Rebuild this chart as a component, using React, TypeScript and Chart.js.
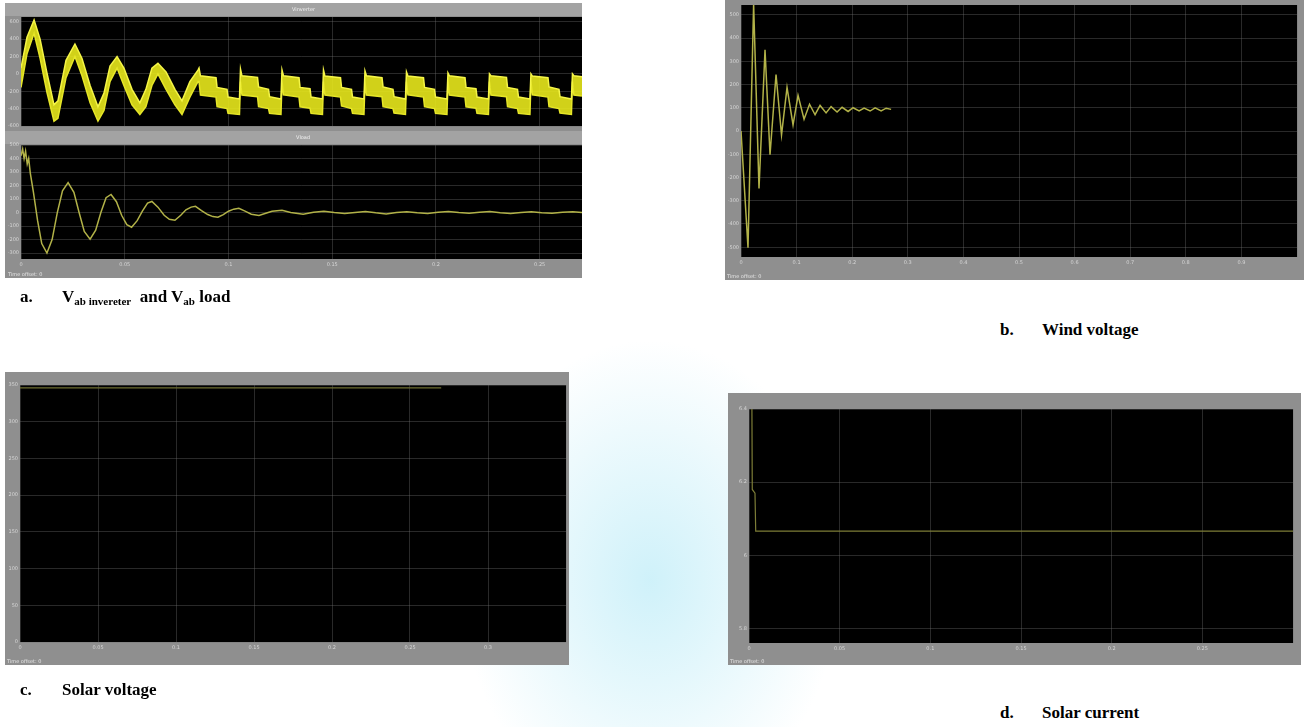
import React, { useEffect, useRef } from "react";
import { Chart, registerables } from "chart.js";

Chart.register(...registerables);

// ---------- a. inverter line voltage (switching band: upper / lower envelope) ----------
const inverterTime = [
  0.0, 0.0029, 0.0063, 0.0092, 0.0125, 0.0159, 0.0178, 0.0217, 0.026, 0.0294, 0.0333, 0.0371, 0.04,
  0.0429, 0.0463, 0.0496, 0.0535, 0.0573, 0.0602, 0.0631, 0.066, 0.0699, 0.0742, 0.0776, 0.0814, 0.0853,
  0.0858, 0.0865, 0.094, 0.0945, 0.0993, 0.0998, 0.1053,
  0.1058, 0.1065, 0.114, 0.1145, 0.1193, 0.1198, 0.1253,
  0.1258, 0.1265, 0.134, 0.1345, 0.1393, 0.1398, 0.1453,
  0.1458, 0.1465, 0.154, 0.1545, 0.1593, 0.1598, 0.1653,
  0.1658, 0.1665, 0.174, 0.1745, 0.1793, 0.1798, 0.1853,
  0.1858, 0.1865, 0.194, 0.1945, 0.1993, 0.1998, 0.2053,
  0.2058, 0.2065, 0.214, 0.2145, 0.2193, 0.2198, 0.2253,
  0.2258, 0.2265, 0.234, 0.2345, 0.2393, 0.2398, 0.2453,
  0.2458, 0.2465, 0.254, 0.2545, 0.2593, 0.2598, 0.2653,
  0.2658, 0.2665, 0.2704,
];
const inverterUpper = [
  67, 422, 622, 400, 11, -356, -311, 156, 344, 178, -133, -378, -222,
  89, 200, 67, -178, -333, -178, 67, 122, 22, -178, -311, -89, 44,
  67, -22, -44, -156, -178, -267, -289,
  56, -22, -40, -150, -178, -262, -289,
  44, -22, -44, -156, -170, -267, -289,
  44, -25, -44, -156, -178, -267, -289,
  33, -22, -44, -150, -178, -262, -289,
  22, -25, -44, -156, -178, -267, -289,
  11, -22, -44, -156, -170, -267, -289,
  0, -22, -40, -156, -178, -267, -289,
  0, -25, -44, -150, -178, -262, -289,
  0, -22, -33,
];
const inverterLower = [
  -156, 233, 467, 178, -211, -544, -511, -44, 200, -22, -333, -544, -422,
  -89, 67, -133, -356, -467, -378, -133, 0, -178, -356, -467, -267, -89,
  -89, -244, -267, -378, -400, -455, -467,
  -89, -244, -262, -378, -400, -455, -467,
  -89, -240, -267, -378, -395, -455, -467,
  -89, -244, -267, -370, -400, -455, -467,
  -89, -244, -262, -378, -400, -450, -467,
  -89, -240, -267, -378, -400, -455, -467,
  -89, -244, -267, -378, -395, -455, -467,
  -89, -244, -262, -378, -400, -455, -467,
  -89, -240, -267, -378, -400, -450, -467,
  -89, -244, -256,
];

// ---------- a. load line voltage ----------
const loadTime = [
  0.0, 0.0008, 0.0015, 0.0022, 0.003, 0.0037, 0.0045, 0.006, 0.008, 0.01, 0.0125, 0.015, 0.0175, 0.02,
  0.0227, 0.0255, 0.028, 0.0305, 0.0333, 0.036, 0.0385, 0.041, 0.0434, 0.046, 0.0485, 0.051, 0.0533,
  0.056, 0.0585, 0.061, 0.0631, 0.066, 0.069, 0.0715, 0.0742, 0.077, 0.0795, 0.082, 0.0841, 0.087,
  0.09, 0.0925, 0.0949, 0.0975, 0.1, 0.1025, 0.105, 0.108, 0.111, 0.1147, 0.118, 0.121, 0.1258, 0.13,
  0.136, 0.141, 0.146, 0.151, 0.156, 0.161, 0.166, 0.171, 0.176, 0.181, 0.186, 0.191, 0.196, 0.201,
  0.206, 0.211, 0.216, 0.221, 0.226, 0.231, 0.236, 0.241, 0.246, 0.251, 0.256, 0.261, 0.266, 0.2704,
];
const loadVoltage = [
  420, 470, 400, 455, 360, 400, 290, 150, -60, -230, -300, -200, 0, 160,
  222, 150, 0, -140, -197, -130, 0, 110, 134, 80, -20, -90, -109,
  -60, 10, 70, 82, 40, -20, -50, -57, -20, 20, 40, 46, 15,
  -15, -30, -35, -15, 10, 25, 31, 10, -12, -21, -5, 10, 16, 0,
  -12, 2, 10, 0, -8, 0, 8, -2, -10, 0, 6, -2, -8, 2,
  8, 0, -6, 2, 8, -2, -8, 0, 6, -2, -6, 2, 6, 0,
];

// ---------- b. wind voltage ----------
const windTime = [
  0.0, 0.0126, 0.0227, 0.0324, 0.0432, 0.0522, 0.063, 0.0729, 0.0828, 0.0936, 0.1026, 0.1134,
  0.1233, 0.1332, 0.1422, 0.153, 0.162, 0.1728, 0.1818, 0.1926, 0.2016, 0.2124, 0.2214, 0.2322,
  0.2412, 0.252, 0.261, 0.27,
];
const windVoltage = [
  0, -502, 545, -247, 349, -102, 243, -17, 187, 26, 153, 51,
  115, 70, 110, 78, 105, 82, 102, 84, 100, 86, 99, 86,
  100, 86, 98, 93,
];

// ---------- c. solar voltage ----------
const solarVoltageTime = [0.0, 0.27];
const solarVoltage = [346, 346];

// ---------- d. solar current ----------
const solarCurrentTime = [0.0, 0.0016, 0.0018, 0.0033, 0.0037, 0.3];
const solarCurrent = [6.41, 6.41, 6.18, 6.17, 6.066, 6.066];

// ---------- scope drawing ----------
const plotBackground = {
  id: "plotBackground",
  beforeDraw(chart: any) {
    const { ctx, chartArea: a } = chart;
    ctx.save();
    ctx.fillStyle = "#000";
    ctx.fillRect(a.left, a.top, a.right - a.left, a.bottom - a.top);
    ctx.restore();
  },
};

type Trace = {
  xs: number[];
  ys: number[];
  color: string;
  width: number;
  fill?: string | false;
  fillColor?: string;
};

type ScopeProps = {
  left: number;
  top: number;
  width: number;
  height: number;
  plotLeft: number;
  plotTop: number;
  plotRight: number;
  plotBottom: number;
  xMin: number;
  xMax: number;
  xStep: number;
  yMin: number;
  yMax: number;
  yStep: number;
  showXLabels: boolean;
  traces: Trace[];
};

const fmt = (v: number) => {
  if (Math.abs(v) < 1e-9) return "0";
  return String(parseFloat(v.toFixed(4)));
};

const gridColor = "rgba(115,115,115,0.36)";
const labelColor = "#d6d6d6";
const labelFont = { family: "DejaVu Sans", size: 5 };

function Scope(p: ScopeProps) {
  const ref = useRef<HTMLCanvasElement>(null);
  useEffect(() => {
    const canvas = ref.current;
    if (!canvas) return;
    const chart = new Chart(canvas, {
      type: "line",
      data: {
        datasets: p.traces.map((t) => ({
          data: t.xs.map((x, i) => ({ x, y: t.ys[i] })),
          borderColor: t.color,
          borderWidth: t.width,
          pointRadius: 0,
          tension: 0,
          fill: t.fill ?? false,
          backgroundColor: t.fillColor ?? "transparent",
        })),
      },
      options: {
        responsive: false,
        animation: false,
        devicePixelRatio: 1,
        events: [],
        layout: {
          autoPadding: false,
          padding: { left: 0, top: p.plotTop, right: p.width - p.plotRight, bottom: 0 },
        },
        plugins: { legend: { display: false }, tooltip: { enabled: false } },
        scales: {
          x: {
            type: "linear",
            min: p.xMin,
            max: p.xMax,
            afterFit: (s: any) => {
              s.height = p.height - p.plotBottom;
            },
            border: { display: false },
            grid: { color: gridColor, lineWidth: 1, drawTicks: false },
            ticks: {
              display: p.showXLabels,
              stepSize: p.xStep,
              includeBounds: false,
              autoSkip: false,
              maxRotation: 0,
              padding: 3,
              color: labelColor,
              font: labelFont,
              callback: (v: any) => (Math.abs(Number(v) - p.xMax) < 1e-9 ? "" : fmt(Number(v))),
            },
          },
          y: {
            type: "linear",
            min: p.yMin,
            max: p.yMax,
            afterFit: (s: any) => {
              s.width = p.plotLeft;
            },
            border: { display: false },
            grid: { color: gridColor, lineWidth: 1, drawTicks: false },
            ticks: {
              stepSize: p.yStep,
              includeBounds: false,
              autoSkip: false,
              padding: 2,
              color: labelColor,
              font: labelFont,
              callback: (v: any) => fmt(Number(v)),
            },
          },
        },
      } as any,
      plugins: [plotBackground],
    });
    return () => chart.destroy();
  }, []);
  return (
    <canvas
      ref={ref}
      width={p.width}
      height={p.height}
      style={{ position: "absolute", left: p.left, top: p.top, width: p.width, height: p.height }}
    />
  );
}

const panelGrey = "#8f8f8f";
const barGrey = "#a3a3a3";
const tiny: React.CSSProperties = {
  position: "absolute",
  fontFamily: "DejaVu Sans, sans-serif",
  fontSize: 5,
  color: "#e6e6e6",
  lineHeight: "6px",
  whiteSpace: "nowrap",
};
const caption: React.CSSProperties = {
  position: "absolute",
  fontFamily: "'Liberation Serif', 'Times New Roman', serif",
  fontWeight: "bold",
  fontSize: 17,
  lineHeight: "20px",
  color: "#000",
  whiteSpace: "nowrap",
};
const sub: React.CSSProperties = { fontSize: 11, verticalAlign: "-3px" };

const thinYellow = "rgb(178,178,72)";

export default function App() {
  return (
    <div
      style={{
        position: "absolute",
        left: 0,
        top: 0,
        width: 1304,
        height: 727,
        overflow: "hidden",
        background: "#fff",
      }}
    >
      {/* soft coloured haze in the page background */}
      <div
        style={{
          position: "absolute",
          left: 0,
          top: 0,
          width: 1304,
          height: 727,
          background:
            "radial-gradient(ellipse 190px 240px at 650px 580px, rgba(175,232,246,0.6), rgba(255,255,255,0) 100%)",
        }}
      />

      {/* a. two stacked scope axes */}
      <div style={{ position: "absolute", left: 5, top: 3, width: 577, height: 275, background: panelGrey }} />
      <div style={{ position: "absolute", left: 5, top: 3, width: 577, height: 13, background: barGrey }} />
      <div style={{ position: "absolute", left: 5, top: 131, width: 577, height: 13, background: barGrey }} />
      <Scope
        left={5}
        top={3}
        width={577}
        height={128}
        plotLeft={16}
        plotTop={14}
        plotRight={577}
        plotBottom={127}
        xMin={0}
        xMax={0.2704}
        xStep={0.05}
        yMin={-600}
        yMax={655}
        yStep={200}
        showXLabels={false}
        traces={[
          { xs: inverterTime, ys: inverterUpper, color: "rgb(245,245,70)", width: 1.5 },
          {
            xs: inverterTime,
            ys: inverterLower,
            color: "rgb(230,230,40)",
            width: 1.5,
            fill: "-1",
            fillColor: "rgba(232,232,28,0.9)",
          },
        ]}
      />
      <Scope
        left={5}
        top={131}
        width={577}
        height={147}
        plotLeft={16}
        plotTop={14}
        plotRight={577}
        plotBottom={128}
        xMin={0}
        xMax={0.2704}
        xStep={0.05}
        yMin={-344}
        yMax={500}
        yStep={100}
        showXLabels={true}
        traces={[{ xs: loadTime, ys: loadVoltage, color: thinYellow, width: 1.5 }]}
      />
      <span style={{ ...tiny, left: 292, top: 6, color: "#f2f2f2" }}>Vinverter</span>
      <span style={{ ...tiny, left: 296, top: 134, color: "#f2f2f2" }}>Vload</span>
      <span style={{ ...tiny, left: 8, top: 271 }}>Time offset: 0</span>

      {/* b. wind voltage */}
      <div style={{ position: "absolute", left: 725, top: 0, width: 579, height: 280, background: panelGrey }} />
      <Scope
        left={725}
        top={0}
        width={579}
        height={280}
        plotLeft={16}
        plotTop={2}
        plotRight={572}
        plotBottom={257}
        xMin={0}
        xMax={1}
        xStep={0.1}
        yMin={-542}
        yMax={542}
        yStep={100}
        showXLabels={true}
        traces={[{ xs: windTime, ys: windVoltage, color: thinYellow, width: 1.5 }]}
      />
      <span style={{ ...tiny, left: 727, top: 273 }}>Time offset: 0</span>

      {/* c. solar voltage */}
      <div style={{ position: "absolute", left: 5, top: 372, width: 564, height: 293, background: panelGrey }} />
      <Scope
        left={5}
        top={372}
        width={564}
        height={293}
        plotLeft={15}
        plotTop={13}
        plotRight={561}
        plotBottom={270}
        xMin={0}
        xMax={0.35}
        xStep={0.05}
        yMin={0}
        yMax={350}
        yStep={50}
        showXLabels={true}
        traces={[{ xs: solarVoltageTime, ys: solarVoltage, color: "rgb(110,110,50)", width: 1.2 }]}
      />
      <span style={{ ...tiny, left: 7, top: 658 }}>Time offset: 0</span>

      {/* d. solar current */}
      <div style={{ position: "absolute", left: 728, top: 393, width: 573, height: 272, background: panelGrey }} />
      <Scope
        left={728}
        top={393}
        width={573}
        height={272}
        plotLeft={21}
        plotTop={16}
        plotRight={565}
        plotBottom={250}
        xMin={0}
        xMax={0.3}
        xStep={0.05}
        yMin={5.76}
        yMax={6.4}
        yStep={0.2}
        showXLabels={true}
        traces={[{ xs: solarCurrentTime, ys: solarCurrent, color: "rgb(125,125,55)", width: 1.2 }]}
      />
      <span style={{ ...tiny, left: 730, top: 658 }}>Time offset: 0</span>

      {/* captions */}
      <div style={{ ...caption, left: 20, top: 287 }}>a.</div>
      <div style={{ ...caption, left: 62, top: 287 }}>
        V<span style={sub}>ab invereter</span>
        {"\u00a0\u00a0"}and V<span style={sub}>ab</span> load
      </div>
      <div style={{ ...caption, left: 1000, top: 320 }}>b.</div>
      <div style={{ ...caption, left: 1042, top: 320 }}>Wind voltage</div>
      <div style={{ ...caption, left: 20, top: 680 }}>c.</div>
      <div style={{ ...caption, left: 62, top: 680 }}>Solar voltage</div>
      <div style={{ ...caption, left: 1000, top: 703 }}>d.</div>
      <div style={{ ...caption, left: 1042, top: 703 }}>Solar current</div>
    </div>
  );
}
